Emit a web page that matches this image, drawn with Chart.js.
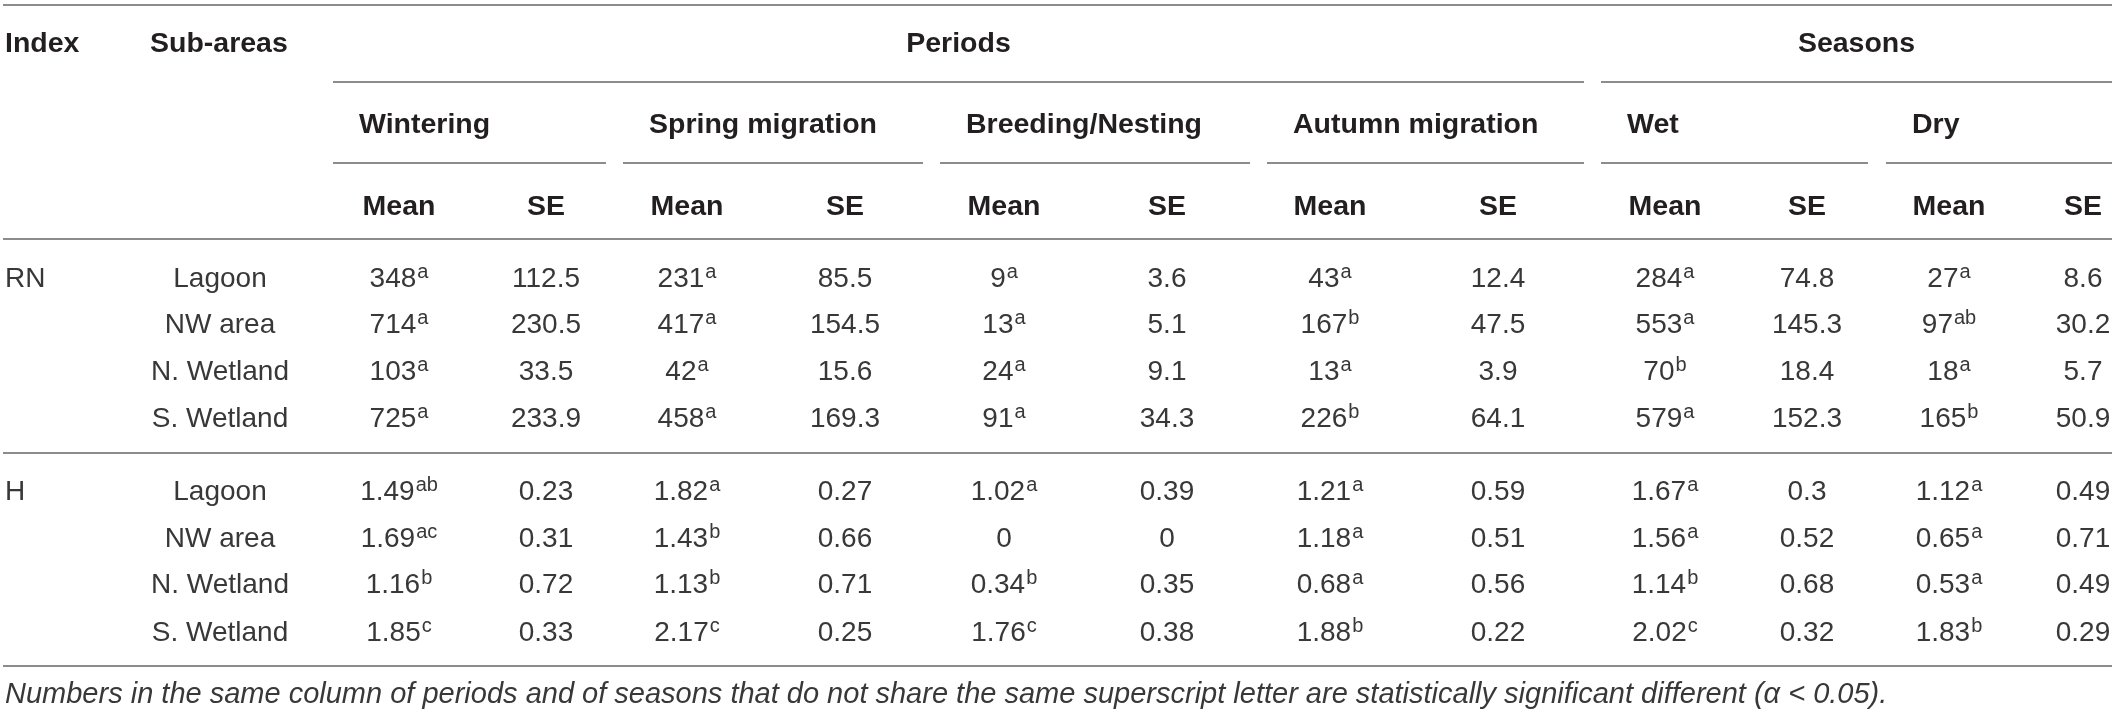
<!DOCTYPE html>
<html>
<head>
<meta charset="utf-8">
<script src="https://cdn.jsdelivr.net/npm/chart.js@4.4.1/dist/chart.umd.min.js"></script>
<style>
html,body{margin:0;padding:0;background:#fff;overflow:hidden}
canvas{display:block}
</style>
</head>
<body>
<canvas id="c" width="2117" height="715"></canvas>
<script>
// ================= DATA =================
const indexNames = ['RN', 'H'];
const subAreas = ['Lagoon', 'NW area', 'N. Wetland', 'S. Wetland'];
const topHeaders = ['Index', 'Sub-areas'];
const groupTitles = ['Periods', 'Seasons'];
const columnGroups = ['Wintering', 'Spring migration', 'Breeding/Nesting', 'Autumn migration', 'Wet', 'Dry'];
const statLabels = ['Mean', 'SE'];

// rows: RN Lagoon, RN NW area, RN N. Wetland, RN S. Wetland, H Lagoon, H NW area, H N. Wetland, H S. Wetland
const winteringMean = [348, 714, 103, 725, 1.49, 1.69, 1.16, 1.85];
const winteringSup  = ['a', 'a', 'a', 'a', 'ab', 'ac', 'b', 'c'];
const winteringSE   = [112.5, 230.5, 33.5, 233.9, 0.23, 0.31, 0.72, 0.33];

const springMean = [231, 417, 42, 458, 1.82, 1.43, 1.13, 2.17];
const springSup  = ['a', 'a', 'a', 'a', 'a', 'b', 'b', 'c'];
const springSE   = [85.5, 154.5, 15.6, 169.3, 0.27, 0.66, 0.71, 0.25];

const breedingMean = [9, 13, 24, 91, 1.02, 0, 0.34, 1.76];
const breedingSup  = ['a', 'a', 'a', 'a', 'a', '', 'b', 'c'];
const breedingSE   = [3.6, 5.1, 9.1, 34.3, 0.39, 0, 0.35, 0.38];

const autumnMean = [43, 167, 13, 226, 1.21, 1.18, 0.68, 1.88];
const autumnSup  = ['a', 'b', 'a', 'b', 'a', 'a', 'a', 'b'];
const autumnSE   = [12.4, 47.5, 3.9, 64.1, 0.59, 0.51, 0.56, 0.22];

const wetMean = [284, 553, 70, 579, 1.67, 1.56, 1.14, 2.02];
const wetSup  = ['a', 'a', 'b', 'a', 'a', 'a', 'b', 'c'];
const wetSE   = [74.8, 145.3, 18.4, 152.3, 0.3, 0.52, 0.68, 0.32];

const dryMean = [27, 97, 18, 165, 1.12, 0.65, 0.53, 1.83];
const drySup  = ['a', 'ab', 'a', 'b', 'a', 'a', 'a', 'b'];
const drySE   = [8.6, 30.2, 5.7, 50.9, 0.49, 0.71, 0.49, 0.29];

const footnote = 'Numbers in the same column of periods and of seasons that do not share the same superscript letter are statistically significant different (\u03B1 < 0.05).';

// ================= LAYOUT (positions in canvas units) =================
const W = 2117, H = 715;
const tableLeft = 5, tableRight = 2112;
const headerRowY = [42, 123, 205];
const bodyRowY = [277, 323, 370, 417, 490, 537, 583, 631];
const footnoteY = 693;
const indexX = 5, subAreaX = 220, subAreaHeaderX = 150;
const groupSpans = [[333, 1584], [1601, 2112]];
const colSpans = [[333, 606], [623, 923], [940, 1250], [1267, 1584], [1601, 1868], [1886, 2112]];
const meanX = [399, 687, 1004, 1330, 1665, 1949];
const seX = [546, 845, 1167, 1498, 1807, 2083];
const fullRulesY = [5, 239, 453, 666];
const groupRuleY = 82, colRuleY = 163;

// ================= STYLES =================
const FONT = '"Liberation Sans", Arial, Helvetica, sans-serif';
const headStyle = { font: 'bold 28.5px ' + FONT, color: '#231f20', shift: 10 };
const bodyStyle = { font: '28px ' + FONT, supFont: '20px ' + FONT, supRise: 9, color: '#383838', shift: 10 };
const footStyle = { font: 'italic 29px ' + FONT, color: '#383838', shift: 10 };
const ruleColor = '#8c8c8c';

// ================= BUILD DATASETS =================
const meanCols = [winteringMean, springMean, breedingMean, autumnMean, wetMean, dryMean];
const supCols = [winteringSup, springSup, breedingSup, autumnSup, wetSup, drySup];
const seCols = [winteringSE, springSE, breedingSE, autumnSE, wetSE, drySE];

function textSet(points, style, align) {
  return { type: 'scatter', data: points, pointRadius: 0, pointHoverRadius: 0,
           showLine: false, cellStyle: style, cellAlign: align };
}
function rule(x0, x1, y) {
  return { type: 'scatter', showLine: true, data: [{ x: x0, y: y }, { x: x1, y: y }],
           borderColor: ruleColor, borderWidth: 2, pointRadius: 0, pointHoverRadius: 0, fill: false };
}

const datasets = [];
// rules
fullRulesY.forEach(y => datasets.push(rule(tableLeft - 2, tableRight, y)));
groupSpans.forEach(s => datasets.push(rule(s[0], s[1], groupRuleY)));
colSpans.forEach(s => datasets.push(rule(s[0], s[1], colRuleY)));

// header texts
datasets.push(textSet([
  { x: indexX, y: headerRowY[0], text: topHeaders[0] },
  { x: subAreaHeaderX, y: headerRowY[0], text: topHeaders[1] }
], headStyle, 'left'));
datasets.push(textSet(groupTitles.map((t, i) => ({
  x: (groupSpans[i][0] + groupSpans[i][1]) / 2, y: headerRowY[0], text: t })), headStyle, 'center'));
datasets.push(textSet(columnGroups.map((t, i) => ({
  x: colSpans[i][0] + 26, y: headerRowY[1], text: t })), headStyle, 'left'));
const statPts = [];
meanX.forEach((x, i) => {
  statPts.push({ x: x, y: headerRowY[2], text: statLabels[0] });
  statPts.push({ x: seX[i], y: headerRowY[2], text: statLabels[1] });
});
datasets.push(textSet(statPts, headStyle, 'center'));

// body: index names & sub-areas
datasets.push(textSet(indexNames.map((t, i) => ({ x: indexX, y: bodyRowY[i * 4], text: t })), bodyStyle, 'left'));
const subPts = [];
bodyRowY.forEach((y, r) => subPts.push({ x: subAreaX, y: y, text: subAreas[r % 4] }));
datasets.push(textSet(subPts, bodyStyle, 'center'));

// body values
meanCols.forEach((col, c) => {
  datasets.push(textSet(col.map((v, r) => ({ x: meanX[c], y: bodyRowY[r], text: String(v), sup: supCols[c][r] })), bodyStyle, 'center'));
  datasets.push(textSet(seCols[c].map((v, r) => ({ x: seX[c], y: bodyRowY[r], text: String(v) })), bodyStyle, 'center'));
});

// footnote
datasets.push(textSet([{ x: tableLeft, y: footnoteY, text: footnote }], footStyle, 'left'));

// ================= TEXT PLUGIN =================
function drawCell(ctx, x, y, text, sup, st, align) {
  ctx.save();
  ctx.fillStyle = st.color;
  ctx.textBaseline = 'alphabetic';
  ctx.textAlign = 'left';
  ctx.font = st.font;
  const w = ctx.measureText(text).width;
  let ws = 0;
  if (sup) { ctx.font = st.supFont; ws = ctx.measureText(sup).width + 1; }
  let x0 = x;
  if (align === 'center') x0 = x - (w + ws) / 2;
  else if (align === 'right') x0 = x - w - ws;
  const base = y + st.shift;
  ctx.font = st.font;
  ctx.fillText(text, x0, base);
  if (sup) {
    ctx.font = st.supFont;
    ctx.fillText(sup, x0 + w + 1, base - st.supRise);
  }
  ctx.restore();
}

const tablePlugin = {
  id: 'tableText',
  afterDatasetsDraw(chart) {
    const ctx = chart.ctx;
    chart.data.datasets.forEach((ds, i) => {
      if (!ds.cellStyle) return;
      const meta = chart.getDatasetMeta(i);
      meta.data.forEach((el, j) => {
        const raw = ds.data[j];
        drawCell(ctx, el.x, el.y, raw.text, raw.sup, ds.cellStyle, ds.cellAlign);
      });
    });
  }
};

new Chart(document.getElementById('c'), {
  type: 'scatter',
  data: { datasets: datasets },
  options: {
    responsive: false,
    devicePixelRatio: 1,
    animation: false,
    events: [],
    layout: { padding: 0 },
    plugins: { legend: { display: false }, tooltip: { enabled: false } },
    scales: {
      x: { type: 'linear', min: 0, max: W, display: false },
      y: { type: 'linear', min: 0, max: H, reverse: true, display: false }
    }
  },
  plugins: [tablePlugin]
});
</script>
</body>
</html>
